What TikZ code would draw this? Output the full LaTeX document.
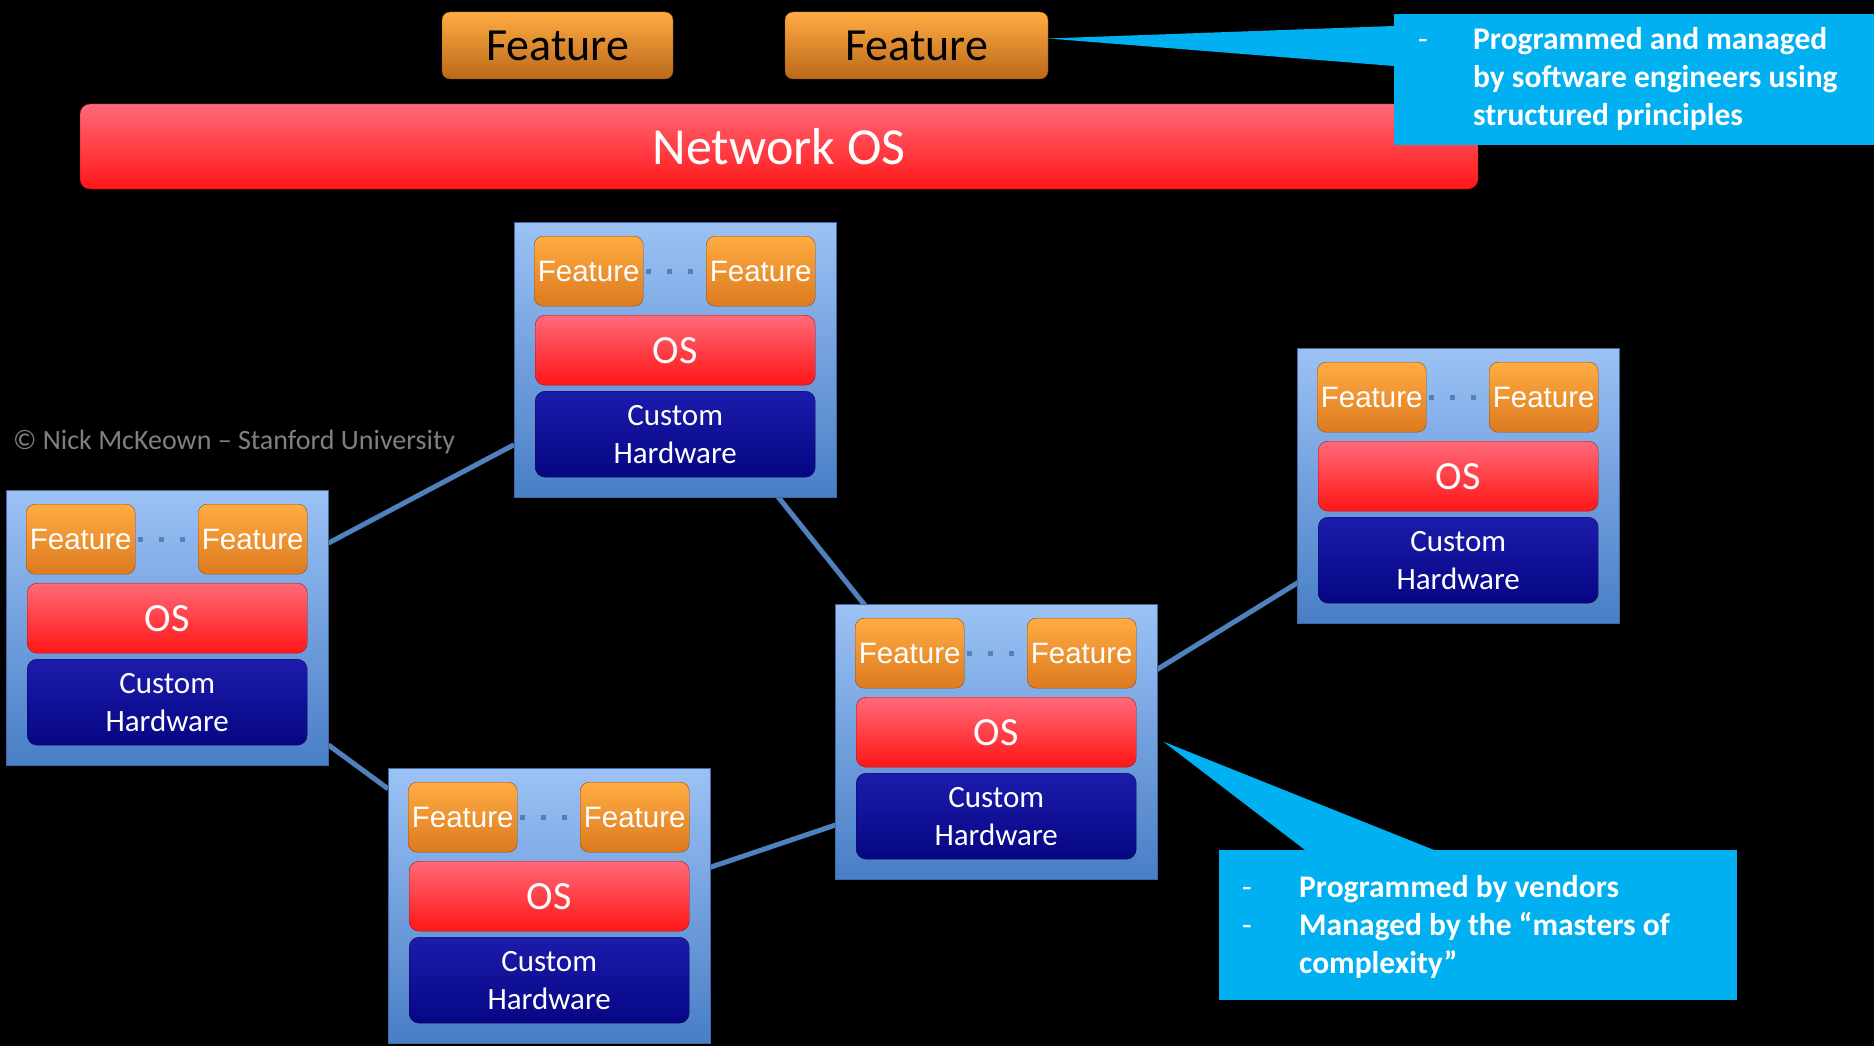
\documentclass[tikz,border=0pt]{standalone}
\usepackage{fontspec}
\setmainfont{Carlito}
\newfontfamily\arialfont{Liberation Sans}
\usepackage{array}
\usepackage{tikz}
\usetikzlibrary{positioning,backgrounds}
\definecolor{calloutblue}{RGB}{0,176,240}
\definecolor{linkblue}{RGB}{79,129,189}
\definecolor{paneltop}{RGB}{156,194,245}
\definecolor{panelbot}{RGB}{72,126,198}
\definecolor{panelline}{RGB}{66,104,160}
\definecolor{feattop}{RGB}{255,172,66}
\definecolor{featbot}{RGB}{220,122,32}
\definecolor{featline}{RGB}{140,78,22}
\definecolor{ostop}{RGB}{255,106,120}
\definecolor{osbot}{RGB}{255,22,22}
\definecolor{osline}{RGB}{160,20,30}
\definecolor{hwtop}{RGB}{28,28,172}
\definecolor{hwbot}{RGB}{6,6,132}
\definecolor{hwline}{RGB}{12,12,70}
\definecolor{creditgray}{RGB}{128,128,128}

\begin{document}
\begin{tikzpicture}[x=1pt,y=-1pt,
    panel/.style={draw=panelline,top color=paneltop,bottom color=panelbot,
        minimum width=322pt,minimum height=275pt,anchor=north west,inner sep=0pt},
    feat/.style={draw=featline,rounded corners=9pt,top color=feattop,bottom color=featbot,
        minimum width=109pt,minimum height=70pt,inner sep=0pt,text=white,
        font=\arialfont\fontsize{29.5}{31}\selectfont},
    osbox/.style={draw=osline,rounded corners=10pt,top color=ostop,bottom color=osbot,
        minimum width=280pt,minimum height=70pt,inner sep=0pt,text=white,
        font=\fontsize{40}{44}\selectfont},
    hwbox/.style={draw=hwline,rounded corners=10pt,top color=hwtop,bottom color=hwbot,
        minimum width=280pt,minimum height=86pt,inner sep=0pt,text=white,align=center,
        font=\fontsize{31}{38}\selectfont},
    bigfeat/.style={draw=featline,rounded corners=8pt,top color=feattop,bottom color=featbot!85!black,
        minimum height=67pt,inner sep=0pt,text=black,font=\fontsize{46}{50}\selectfont},
    netos/.style={draw=osline,rounded corners=10pt,top color=ostop,bottom color=osbot,
        minimum width=1398pt,minimum height=85pt,inner sep=0pt,text=white,
        font=\fontsize{52}{56}\selectfont},
    note/.style={fill=calloutblue,anchor=north west,inner sep=0pt},
    notetext/.style={anchor=base west,inner sep=0pt,text=white,
        font=\bfseries\fontsize{31.5}{38}\selectfont},
    link/.style={draw=linkblue,line width=5pt},
    dots/.style={draw=linkblue,line width=5pt,dash pattern=on 5pt off 16pt,
        shorten <=3pt,shorten >=3pt}]

    \useasboundingbox (0,0) rectangle (1874,1046);
    \begin{scope}[on background layer]
        \fill[black] (0,0) rectangle (1874,1046);
    \end{scope}

    % network operating system layer
    \node[bigfeat,minimum width=231pt] (top1) at (557.5,45.5) {Feature};
    \node[bigfeat,minimum width=263pt] (top2) at (916.5,45.5) {Feature};
    \node[netos] (nos) at (779,146.5) {Network OS};

    \node[anchor=base west,inner sep=0pt,text=creditgray,font=\fontsize{28}{30}\selectfont]
        (credit) at (13,449) {© Nick McKeown – Stanford University};

    % the boxes
    \foreach \n/\x/\y in {swtop/514/222, swleft/6/490, swlow/388/768, swmid/835/604, swright/1297/348} {
        \node[panel] (\n) at (\x,\y) {};
        \node[feat,below right=14pt and 20pt of \n.north west] (\n-fl) {Feature};
        \node[feat,below left=14pt and 21pt of \n.north east] (\n-fr) {Feature};
        \node[osbox,below=93pt of \n.north] (\n-os) {OS};
        \node[hwbox,below=169pt of \n.north] (\n-hw) {Custom\\Hardware};
        \draw[dots] (\n-fl.east) -- (\n-fr.west);
    }

    \begin{scope}[on background layer]
        \draw[link] (swleft) -- (swtop);
        \draw[link] ([xshift=-7pt]swtop.center) -- ([xshift=-22pt]swmid.center);
        \draw[link] (swleft) -- (swlow);
        \draw[link] ([yshift=-16pt]swlow.center) -- ([yshift=-29pt]swmid.center);
        \draw[link] ([yshift=-27pt]swmid.center) -- ([yshift=2pt]swright.center);
    \end{scope}

    % callouts
    \node[note,minimum width=480pt,minimum height=131pt] (note1) at (1394,14) {};
    \fill[calloutblue] ([yshift=7pt]top2.east) -- ([yshift=-12pt]note1.north west)
        -- ([yshift=-52pt]note1.north west) -- cycle;
    \node[notetext] (note1txt) at ([shift={(24,36)}]note1.north west)
        {\begin{tabular}[t]{@{}p{55pt}@{}l@{}}
            \mdseries -&Programmed and managed\\
            &by software engineers using\\
            &structured principles
        \end{tabular}};

    \node[note,minimum width=518pt,minimum height=150pt] (note2) at (1219,850) {};
    \fill[calloutblue] ([xshift=6pt]swmid.east) -- ([xshift=86pt]note2.north west)
        -- ([xshift=215pt]note2.north west) -- cycle;
    \node[notetext] (note2txt) at ([shift={(23,47)}]note2.north west)
        {\begin{tabular}[t]{@{}p{57pt}@{}l@{}}
            \mdseries -&Programmed by vendors\\
            \mdseries -&Managed by the “masters of\\
            &complexity”
        \end{tabular}};
\end{tikzpicture}
\end{document}
